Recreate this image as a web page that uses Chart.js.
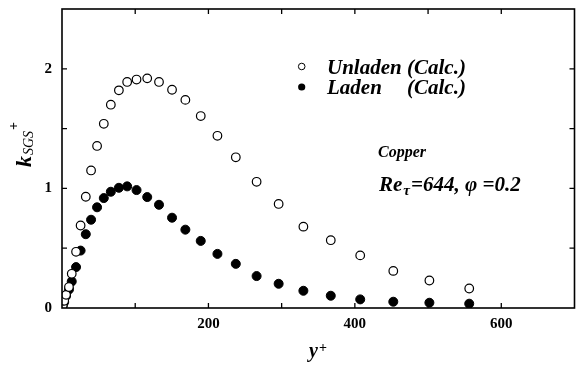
<!DOCTYPE html>
<html>
<head>
<meta charset="utf-8">
<script src="https://cdn.jsdelivr.net/npm/chart.js@4/dist/chart.umd.min.js"></script>
<style>
html,body{margin:0;padding:0;background:#fff;overflow:hidden;}
#wrap{width:576px;height:369px;overflow:hidden;}
</style>
</head>
<body>
<div id="wrap"><canvas id="c" width="580" height="369"></canvas></div>
<script>
// ---- data ----
const yPlus = [1, 3, 5.5, 9.5, 13.3, 19.2, 25.4, 32.5, 39.7, 47.9, 57.1, 66.7, 77.7, 89, 101.8, 116.4, 132.5, 150.3, 168.5, 189.5, 212.3, 237.4, 265.8, 295.9, 329.7, 367.1, 407.3, 452.5, 501.8, 556.2];
const unladen = [0.02, 0.06, 0.11, 0.175, 0.286, 0.47, 0.69, 0.93, 1.15, 1.355, 1.54, 1.70, 1.82, 1.89, 1.91, 1.92, 1.89, 1.825, 1.74, 1.605, 1.44, 1.26, 1.055, 0.87, 0.68, 0.567, 0.44, 0.31, 0.23, 0.163];
const laden = [0.02, 0.05, 0.10, 0.155, 0.222, 0.342, 0.48, 0.617, 0.738, 0.842, 0.919, 0.972, 1.005, 1.017, 0.986, 0.9275, 0.863, 0.755, 0.655, 0.561, 0.4525, 0.369, 0.267, 0.2025, 0.144, 0.1025, 0.072, 0.0525, 0.044, 0.036];
const xTickLabels = ['200', '400', '600'];
const yTickLabels = ['0', '1', '2'];
const seriesNames = ['Unladen', 'Laden'];
const seriesSuffix = '(Calc.)';
const annotationTitle = 'Copper';

const SERIF = '"Liberation Serif", "Times New Roman", serif';

const toPts = (ys) => yPlus.map((x, i) => ({x: x, y: ys[i]}));

const framePlugin = {
  id: 'frame',
  afterDraw(chart) {
    const {ctx, chartArea: a, scales: {x, y}} = chart;
    ctx.save();
    ctx.strokeStyle = '#000';
    ctx.lineWidth = 1.6;
    ctx.strokeRect(a.left, a.top, a.right - a.left, a.bottom - a.top);
    ctx.lineWidth = 1.3;
    const tl = 5;
    ctx.beginPath();
    x.ticks.forEach(t => {
      const px = x.getPixelForValue(t.value);
      if (px <= a.left + 1 || px >= a.right - 1) return;
      ctx.moveTo(px, a.bottom); ctx.lineTo(px, a.bottom - tl);
      ctx.moveTo(px, a.top); ctx.lineTo(px, a.top + tl);
    });
    y.ticks.forEach(t => {
      const py = y.getPixelForValue(t.value);
      if (py <= a.top + 1 || py >= a.bottom - 1) return;
      ctx.moveTo(a.left, py); ctx.lineTo(a.left + tl, py);
      ctx.moveTo(a.right, py); ctx.lineTo(a.right - tl, py);
    });
    ctx.stroke();

    ctx.fillStyle = '#000';
    ctx.textBaseline = 'alphabetic';
    ctx.textAlign = 'left';

    // legend
    ctx.lineWidth = 1;
    ctx.beginPath(); ctx.arc(301.7, 66.5, 3.3, 0, Math.PI * 2);
    ctx.fillStyle = '#fff'; ctx.fill(); ctx.stroke();
    ctx.fillStyle = '#000';
    ctx.beginPath(); ctx.arc(301.7, 87, 3.6, 0, Math.PI * 2); ctx.fill();
    ctx.font = 'bold italic 21px ' + SERIF;
    ctx.fillText(seriesNames[0], 327, 74);
    ctx.fillText(seriesSuffix, 407, 74);
    ctx.fillText(seriesNames[1], 327, 94);
    ctx.fillText(seriesSuffix, 407, 94);

    // annotation
    ctx.font = 'bold italic 16px ' + SERIF;
    ctx.fillText(annotationTitle, 378, 157);
    ctx.font = 'bold italic 21px ' + SERIF;
    let cx = 379;
    ctx.fillText('Re', cx, 191); cx += ctx.measureText('Re').width + 1;
    ctx.font = 'bold italic 15px ' + SERIF;
    ctx.fillText('\u03C4', cx, 195); cx += ctx.measureText('\u03C4').width + 1;
    ctx.font = 'bold italic 21px ' + SERIF;
    ctx.fillText('=644, \u03C6 =0.2', cx, 191);

    // x title
    ctx.font = 'bold italic 20px ' + SERIF;
    ctx.fillText('y', 309, 357);
    ctx.font = 'bold 14px ' + SERIF;
    ctx.fillText('+', 319, 352);

    // y title
    ctx.translate(31, 167);
    ctx.rotate(-Math.PI / 2);
    ctx.font = 'bold italic 22px ' + SERIF;
    ctx.fillText('k', 0, 0);
    let kx = ctx.measureText('k').width + 1;
    ctx.font = 'italic 14px ' + SERIF;
    ctx.fillText('SGS', kx, 2);
    kx += ctx.measureText('SGS').width + 1;
    ctx.font = 'bold 14px ' + SERIF;
    ctx.fillText('+', kx, -13);
    ctx.restore();
  }
};

new Chart(document.getElementById('c'), {
  type: 'scatter',
  data: {
    datasets: [
      {label: seriesNames[0], data: toPts(unladen), pointRadius: 4.3, pointBorderWidth: 1.2,
       pointBackgroundColor: '#fff', pointBorderColor: '#000', showLine: false},
      {label: seriesNames[1], data: toPts(laden), pointRadius: 4.5, pointBorderWidth: 1,
       pointBackgroundColor: '#000', pointBorderColor: '#000', showLine: false}
    ]
  },
  options: {
    responsive: false,
    devicePixelRatio: 1,
    animation: false,
    layout: {padding: {top: 9, right: 2, left: 0, bottom: 0}},
    plugins: {legend: {display: false}, tooltip: {enabled: false}},
    scales: {
      x: {
        type: 'linear', min: 0, max: 700,
        grid: {display: false, drawTicks: false},
        border: {display: false},
        ticks: {
          stepSize: 100, padding: 7, color: '#000', maxRotation: 0, autoSkip: false,
          font: {family: SERIF, size: 15, weight: 'bold'},
          callback: (v) => xTickLabels.includes(String(v)) ? String(v) : ''
        },
        afterFit: (s) => { s.height = 61; s.paddingLeft = 0; s.paddingRight = 0; }
      },
      y: {
        type: 'linear', min: 0, max: 2.5,
        grid: {display: false, drawTicks: false},
        border: {display: false},
        ticks: {
          stepSize: 0.5, padding: 10, color: '#000', autoSkip: false,
          font: {family: SERIF, size: 15, weight: 'bold'},
          callback: (v) => yTickLabels.includes(String(v)) ? String(v) : ''
        },
        afterFit: (s) => { s.width = 62; s.paddingTop = 0; s.paddingBottom = 0; }
      }
    }
  },
  plugins: [framePlugin]
});
</script>
</body>
</html>
